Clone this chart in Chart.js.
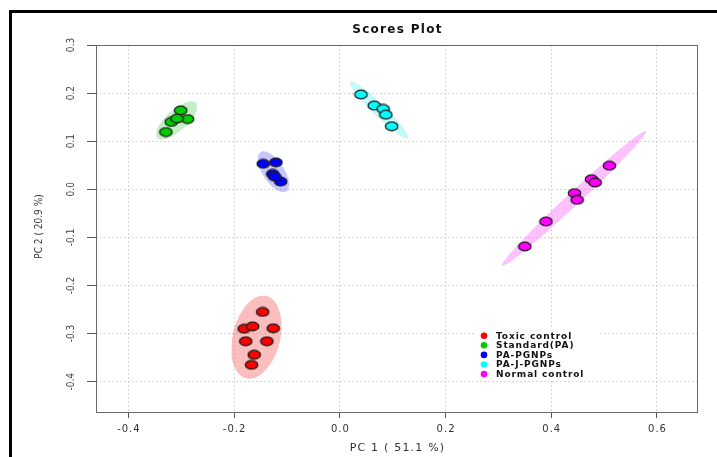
<!DOCTYPE html>
<html>
<head>
<meta charset="utf-8">
<title>Scores Plot</title>
<script src="https://cdn.jsdelivr.net/npm/chart.js@4/dist/chart.umd.min.js"></script>
<style>
  html, body { margin: 0; padding: 0; background: #ffffff; }
  #wrap { width: 717px; height: 457px; position: relative; }
</style>
</head>
<body>
<div id="wrap"><canvas id="c" width="717" height="457"></canvas></div>
<script>
// PCA scores (PC1, PC2) for each treatment group
const groupNames = ['Toxic control', 'Standard(PA)', 'PA-PGNPs', 'PA-J-PGNPs', 'Normal control'];
const groupColors = ['#ff0000', '#00cd00', '#0000ff', '#00ffff', '#ff00ff'];
const ellipseColors = ['rgba(244,110,110,0.45)', 'rgba(60,200,60,0.30)', 'rgba(70,70,255,0.30)',
                       'rgba(60,235,235,0.30)', 'rgba(250,80,250,0.35)'];

const toxicPC1 = [-0.146, -0.181, -0.165, -0.126, -0.178, -0.138, -0.162, -0.167];
const toxicPC2 = [-0.255, -0.290, -0.285, -0.289, -0.316, -0.316, -0.344, -0.365];
const standardPC1 = [-0.301, -0.288, -0.319, -0.329, -0.308];
const standardPC2 = [0.164, 0.146, 0.140, 0.119, 0.147];
const pgnpPC1 = [-0.145, -0.121, -0.127, -0.112, -0.123];
const pgnpPC2 = [0.053, 0.056, 0.032, 0.016, 0.026];
const jpgnpPC1 = [0.040, 0.065, 0.082, 0.087, 0.098];
const jpgnpPC2 = [0.197, 0.174, 0.167, 0.155, 0.131];
const normalPC1 = [0.510, 0.476, 0.483, 0.444, 0.449, 0.390, 0.350];
const normalPC2 = [0.049, 0.021, 0.014, -0.008, -0.022, -0.067, -0.119];

const xTickValues = [-0.4, -0.2, 0.0, 0.2, 0.4, 0.6];
const xTickLabels = ['-0.4', '-0.2', '0.0', '0.2', '0.4', '0.6'];
const yTickValues = [-0.4, -0.3, -0.2, -0.1, 0.0, 0.1, 0.2, 0.3];
const yTickLabels = ['-0.4', '-0.3', '-0.2', '-0.1', '0.0', '0.1', '0.2', '0.3'];

const chartTitle = 'Scores Plot';
const xTitle = 'PC 1 ( 51.1 %)';
const yTitle = 'PC 2 ( 20.9 %)';

const groupPC1 = [toxicPC1, standardPC1, pgnpPC1, jpgnpPC1, normalPC1];
const groupPC2 = [toxicPC2, standardPC2, pgnpPC2, jpgnpPC2, normalPC2];

// 95% confidence ellipse from the sample covariance of each group
function confidenceEllipse(xs, ys) {
  const n = xs.length;
  const mx = xs.reduce((a, b) => a + b, 0) / n;
  const my = ys.reduce((a, b) => a + b, 0) / n;
  let sxx = 0, syy = 0, sxy = 0;
  for (let i = 0; i < n; i++) {
    const dx = xs[i] - mx, dy = ys[i] - my;
    sxx += dx * dx; syy += dy * dy; sxy += dx * dy;
  }
  sxx /= (n - 1); syy /= (n - 1); sxy /= (n - 1);
  const a = Math.sqrt(sxx);
  const b = sxy / a;
  const c = Math.sqrt(Math.max(syy - b * b, 1e-12));
  const k = Math.sqrt(5.991464547); // qchisq(0.95, 2)
  const pts = [];
  const steps = 120;
  for (let s = 0; s <= steps; s++) {
    const t = 2 * Math.PI * s / steps;
    pts.push({ x: mx + k * a * Math.cos(t), y: my + k * (b * Math.cos(t) + c * Math.sin(t)) });
  }
  return pts;
}

// oval marker with a dark outline
function makeMarker(color) {
  const cv = document.createElement('canvas');
  cv.width = 15; cv.height = 11;
  const g = cv.getContext('2d');
  g.beginPath();
  g.ellipse(7.5, 5.5, 6.2, 4.3, 0, 0, Math.PI * 2);
  g.fillStyle = color;
  g.fill();
  g.lineWidth = 1.3;
  g.strokeStyle = '#1c1c1c';
  g.stroke();
  return cv;
}

const datasets = [];
groupNames.forEach((name, gi) => {
  datasets.push({
    label: name,
    data: groupPC1[gi].map((v, i) => ({ x: v, y: groupPC2[gi][i] })),
    pointStyle: makeMarker(groupColors[gi]),
    pointRadius: 6,
    showLine: false,
    order: 0
  });
});
groupNames.forEach((name, gi) => {
  datasets.push({
    label: name + ' ellipse',
    data: confidenceEllipse(groupPC1[gi], groupPC2[gi]),
    showLine: true,
    fill: 'shape',
    backgroundColor: ellipseColors[gi],
    borderColor: 'rgba(0,0,0,0)',
    borderWidth: 0,
    pointRadius: 0,
    tension: 0,
    order: 1
  });
});

const decorations = {
  id: 'decorations',
  afterDraw(chart) {
    const ctx = chart.ctx;
    const area = chart.chartArea;
    const xs = chart.scales.x, ys = chart.scales.y;
    ctx.save();

    // plot box
    ctx.strokeStyle = '#6a6a6a';
    ctx.lineWidth = 1;
    ctx.strokeRect(Math.round(area.left) + 0.5, Math.round(area.top) + 0.5,
                   Math.round(area.right - area.left), Math.round(area.bottom - area.top));

    // x tick labels
    ctx.fillStyle = '#333333';
    ctx.font = '10px "DejaVu Sans"';
    ctx.letterSpacing = '1px';
    ctx.textAlign = 'center';
    ctx.textBaseline = 'middle';
    xTickValues.forEach((v, i) => {
      ctx.fillText(xTickLabels[i], xs.getPixelForValue(v) + 0.5, 429);
    });

    // x title
    ctx.letterSpacing = '1.2px';
    ctx.font = '11px "DejaVu Sans"';
    ctx.fillText(xTitle, (area.left + area.right) / 2 + 1, 448);

    // chart title
    ctx.fillStyle = '#111111';
    ctx.font = 'bold 12px "DejaVu Sans"';
    ctx.letterSpacing = '1.3px';
    ctx.fillText(chartTitle, (area.left + area.right) / 2 + 1, 30);
    ctx.letterSpacing = '0px';

    // y tick labels (rotated)
    ctx.fillStyle = '#444444';
    ctx.font = '10px "Liberation Sans Narrow", "DejaVu Sans Condensed", sans-serif';
    yTickValues.forEach((v, i) => {
      ctx.save();
      ctx.translate(71, ys.getPixelForValue(v));
      ctx.rotate(-Math.PI / 2);
      ctx.fillText(yTickLabels[i], 0, 0);
      ctx.restore();
    });

    // y title (rotated)
    ctx.save();
    ctx.translate(39, (area.top + area.bottom) / 2 - 2);
    ctx.rotate(-Math.PI / 2);
    ctx.font = '10px "Liberation Sans Narrow", "DejaVu Sans Condensed", sans-serif';
    ctx.fillStyle = '#333333';
    ctx.fillText(yTitle, 0, 0);
    ctx.restore();

    // legend
    ctx.fillStyle = '#ffffff';
    ctx.fillRect(476, 329, 122, 50);
    ctx.font = 'bold 9px "DejaVu Sans"';
    ctx.letterSpacing = '0.9px';
    ctx.textAlign = 'left';
    groupNames.forEach((name, i) => {
      const cy = 335.7 + i * 9.6;
      ctx.beginPath();
      ctx.arc(484, cy, 3.3, 0, Math.PI * 2);
      ctx.fillStyle = groupColors[i];
      ctx.fill();
      ctx.fillStyle = '#111111';
      ctx.fillText(name, 496, cy + 0.5);
    });
    ctx.letterSpacing = '0px';

    // outer frame
    ctx.strokeStyle = '#000000';
    ctx.lineWidth = 3;
    ctx.strokeRect(10.5, 11.5, 800, 600);
    ctx.restore();
  }
};

new Chart(document.getElementById('c'), {
  type: 'scatter',
  data: { datasets },
  options: {
    responsive: false,
    animation: false,
    events: [],
    layout: { padding: { top: 45, right: 20, left: 0, bottom: 0 } },
    plugins: {
      legend: { display: false },
      title: { display: false },
      tooltip: { enabled: false }
    },
    scales: {
      x: {
        type: 'linear',
        min: -0.4613,
        max: 0.6757,
        afterFit(scale) { scale.height = 45; },
        afterBuildTicks(scale) { scale.ticks = xTickValues.map(v => ({ value: v })); },
        ticks: { display: false },
        grid: { color: '#d6d6d6', lineWidth: 1, drawTicks: true, tickLength: 6, tickColor: '#555555', tickWidth: 1 },
        border: { display: false, dash: [2, 2] }
      },
      y: {
        type: 'linear',
        min: -0.463,
        max: 0.300,
        afterFit(scale) { scale.width = 96; },
        afterBuildTicks(scale) { scale.ticks = yTickValues.map(v => ({ value: v })); },
        ticks: { display: false },
        grid: { color: '#d6d6d6', lineWidth: 1, drawTicks: true, tickLength: 9, tickColor: '#555555', tickWidth: 1 },
        border: { display: false, dash: [2, 2] }
      }
    }
  },
  plugins: [decorations]
});
</script>
</body>
</html>
